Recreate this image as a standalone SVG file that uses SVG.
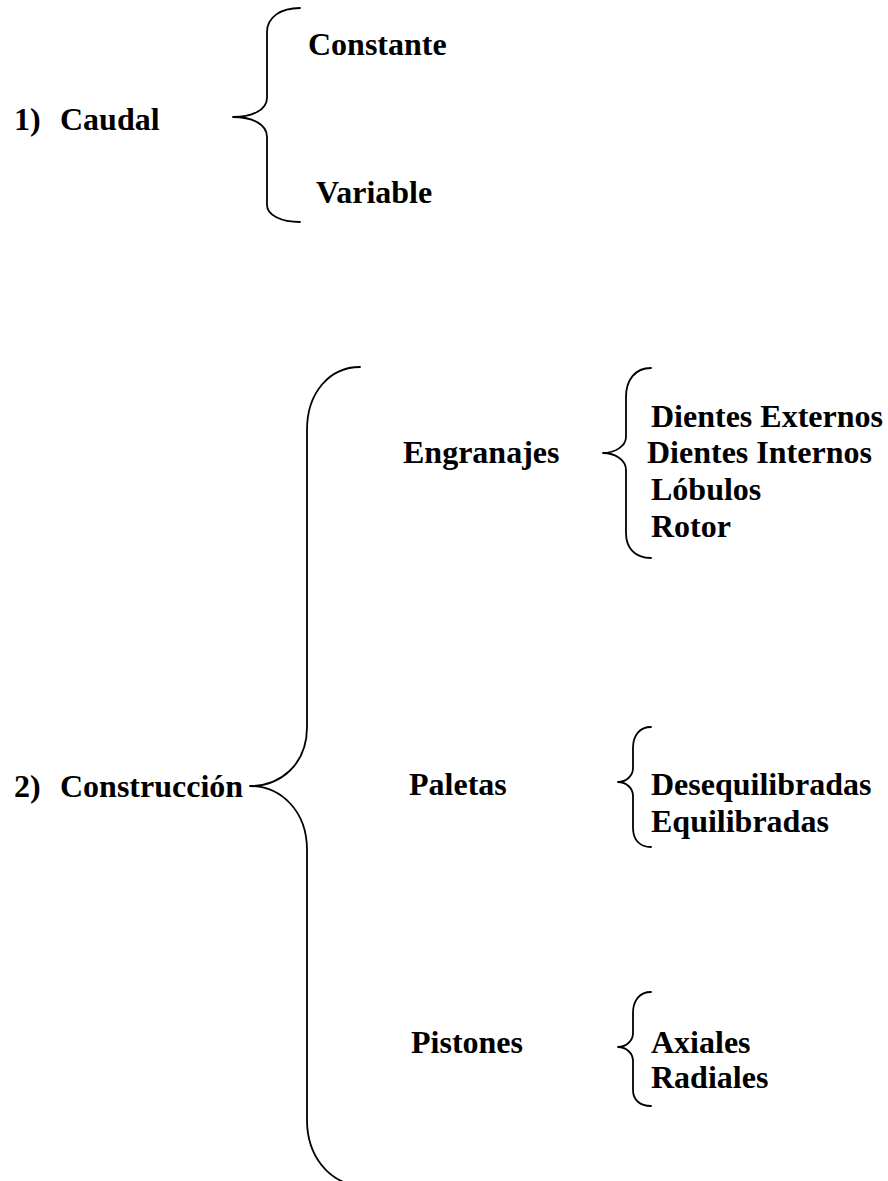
<svg xmlns="http://www.w3.org/2000/svg" width="888" height="1181" viewBox="0 0 888 1181">
<style>
  .t { font-family: "Liberation Serif", "Times New Roman", serif; font-weight: bold; font-size: 32px; fill: #000; }
  .b { fill: none; stroke: #000; stroke-width: 1.8; stroke-linecap: round; stroke-linejoin: round; }
</style>
<rect width="888" height="1181" fill="#fff"/>
<g id="connectors">
  <path class="b" d="M300,8 C281,8 267,17 267,32 L267,98 C267,110 252,117 233,117 C252,117 267,124 267,137 L267,205 C267,215 281,222 300,222"/>
  <path class="b" d="M360,367 C330,367 307,392 307,430 L307,727 C307,765 280,786 250,786 C280,786 307,810 307,850 L307,1120 C307,1155 328,1183 360,1186"/>
  <path class="b" d="M651,368 C635,368 626,380 626,397 L626,437 C626,446 615,453 603,453 C615,453 626,460 626,470 L626,533 C626,548 635,558 651,558"/>
  <path class="b" d="M651,727 C640,727 633,735 633,748 L633,768 C633,776 626,782 618,782 C626,782 633,788 633,796 L633,828 C633,840 640,847 651,847"/>
  <path class="b" d="M651,992 C640,992 633,1000 633,1013 L633,1033 C633,1041 626,1047 618,1047 C626,1047 633,1053 633,1061 L633,1090 C633,1100 640,1106 651,1106"/>
</g>
<g id="caudal"><text class="t" x="14" y="130">1)</text><text class="t" x="60" y="130">Caudal</text></g>
<g id="constante"><text class="t" x="308" y="55">Constante</text></g>
<g id="variable"><text class="t" x="316" y="203">Variable</text></g>
<g id="construccion"><text class="t" x="14" y="797">2)</text><text class="t" x="60" y="797">Construcción</text></g>
<g id="engranajes"><text class="t" x="403" y="463">Engranajes</text></g>
<g id="engranajes-tipos">
  <text class="t" x="651" y="427">Dientes Externos</text>
  <text class="t" x="647" y="463">Dientes Internos</text>
  <text class="t" x="651" y="500">Lóbulos</text>
  <text class="t" x="651" y="537">Rotor</text>
</g>
<g id="paletas"><text class="t" x="409" y="795">Paletas</text></g>
<g id="paletas-tipos">
  <text class="t" x="651" y="795">Desequilibradas</text>
  <text class="t" x="651" y="832">Equilibradas</text>
</g>
<g id="pistones"><text class="t" x="411" y="1053">Pistones</text></g>
<g id="pistones-tipos">
  <text class="t" x="651" y="1053">Axiales</text>
  <text class="t" x="651" y="1088">Radiales</text>
</g>
</svg>
